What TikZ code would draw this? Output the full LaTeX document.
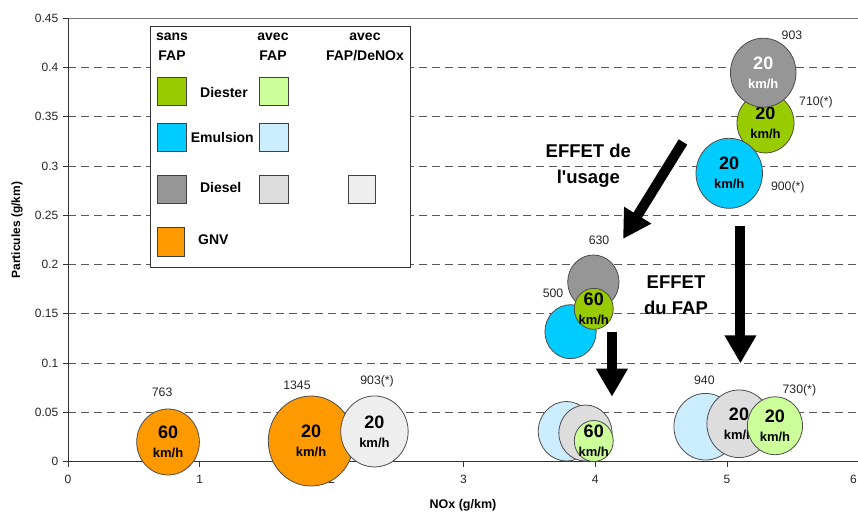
\documentclass[tikz,border=0pt]{standalone}
\usepackage{fontspec}
\setmainfont{Liberation Sans}
\usepackage{tikz}
\usetikzlibrary{shapes, arrows.meta, positioning}
\definecolor{diester}{HTML}{99CC00}
\definecolor{diesterfap}{HTML}{CCFF99}
\definecolor{emul}{HTML}{00CCFF}
\definecolor{emulfap}{HTML}{CCECFF}
\definecolor{diesel}{HTML}{969696}
\definecolor{dieselfap}{HTML}{DDDDDD}
\definecolor{denox}{HTML}{EEEEEE}
\definecolor{gnv}{HTML}{FF9900}
\tikzstyle{bubble} = [ellipse, draw=black!70, line width=0.8pt, inner sep=0pt]
\tikzstyle{spd} = [align=center, inner sep=0pt, font=\bfseries\fontsize{13}{19}\selectfont]
\tikzstyle{val} = [inner sep=0pt, font=\fontsize{12.3}{14}\selectfont, text=black!85]
\tikzstyle{ticklab} = [inner sep=0pt, font=\fontsize{12}{14}\selectfont, text=black!85]
\tikzstyle{gridline} = [draw=black!65, line width=0.9pt, dash pattern=on 8pt off 5pt]
\tikzstyle{axisline} = [draw=black!80, line width=0.9pt]
\tikzstyle{legbox} = [rectangle, draw=black!80, line width=0.9pt, fill=white, inner sep=0pt]
\tikzstyle{swatch} = [rectangle, draw=black!75, line width=0.8pt, minimum width=29pt, minimum height=28pt, inner sep=0pt]
\tikzstyle{legtext} = [inner sep=0pt, align=center, font=\bfseries\fontsize{14}{20}\selectfont]
\tikzstyle{effet} = [inner sep=0pt, align=center, font=\bfseries\fontsize{18.5}{26}\selectfont]
\tikzstyle{bigarrow} = [line width=10pt, -{Triangle[width=30pt,length=28pt]}]
\tikzset{rad/.style={minimum width={1.9*#1pt}, minimum height={2*#1pt}}}
\newcommand{\kmh}[1]{{\fontsize{18}{19}\selectfont #1}\\km/h}

\begin{document}
\begin{tikzpicture}[x=131.8pt, y=985pt]
			\useasboundingbox (-68pt,-50.5pt) rectangle (790pt,461.5pt);
			\clip (-68pt,-50.5pt) rectangle (790pt,461.5pt);

			\foreach \y in {0.05,0.1,0.15,0.2,0.25,0.3,0.35,0.4}
				\path [gridline] (0,\y) -- (6,\y);
			\path [axisline, draw=black!55] (0,0.45) -- (6,0.45);
			\path [axisline] (0,0.45) -- (0,0) -- (6,0);
			\foreach \y [count=\i] in {0,0.05,0.1,0.15,0.2,0.25,0.3,0.35,0.4,0.45} {
				\path [axisline] ([xshift=-5pt]0,\y) -- (0,\y);
				\node [ticklab, anchor=east] (ylab\i) at ([xshift=-9.5pt]0,\y) {\y};
			}
			\foreach \x in {0,...,5} {
				\path [axisline] (\x,0) -- ([yshift=-5pt]\x,0);
				\node [ticklab] (xlab\x) at ([yshift=-18pt]\x,0) {\x};
			}
			\node [ticklab, anchor=east] (xlab6) at ([yshift=-18pt, xshift=-1pt]790pt,0) {6};
			\node [font=\bfseries\fontsize{12}{14}\selectfont, rotate=90] (ytitle) at (-0.387,0.235) {Particules (g/km)};
			\node [font=\bfseries\fontsize{12.5}{14}\selectfont] (xtitle) at (2.997,-0.0442) {NOx (g/km)};

			\node [legbox, anchor=north west, minimum width=260pt, minimum height=240.7pt] (leg) at (0.622,0.4421) {};
			\begin{scope}[shift={(leg.north west)}, x=1pt, y=1pt]
				\node [legtext] (hsans) at (22,-21) {sans\\FAP};
				\node [legtext] (havec) at (123,-21) {avec\\FAP};
				\node [legtext] (hdenox) at (215,-21) {avec\\FAP/DeNOx};
				\node [swatch, fill=diester] (sdiester) at (22,-65.5) {};
				\node [swatch, fill=diesterfap] (sdiesterfap) at (124,-65.5) {};
				\node [swatch, fill=emul] (semul) at (22,-111) {};
				\node [swatch, fill=emulfap] (semulfap) at (124,-111) {};
				\node [swatch, fill=diesel] (sdiesel) at (22,-163) {};
				\node [swatch, fill=dieselfap] (sdieselfap) at (124,-163) {};
				\node [swatch, fill=denox, minimum width=27pt] (sdenox) at (212.3,-163) {};
				\node [swatch, fill=gnv, minimum width=27pt, minimum height=29pt] (sgnv) at (20.7,-216) {};
				\node [legtext] (ldiester) at (74,-66.3) {Diester};
				\node [legtext] (lemul) at (72.3,-111) {Emulsion};
				\node [legtext] (ldiesel) at (70.7,-161) {Diesel};
				\node [legtext] (lgnv) at (63.3,-214) {GNV};
			\end{scope}

			\node [bubble, rad=33, fill=gnv, label={[spd]center:\kmh{60}}] (gnv60) at (0.759,0.0198) {};
			\node [bubble, rad=45, fill=gnv, label={[spd]center:\kmh{20}}] (gnv20) at (1.844,0.0208) {};
			\node [bubble, rad=35.5, fill=denox, label={[spd]center:\kmh{20}}] (denox20) at (2.325,0.0305) {};

			\node [bubble, rad=30, fill=diester, label={[spd]center:\kmh{20}}] (diester20) at (5.292,0.3437) {};
			\node [bubble, rad=35, fill=emul, label={[spd]center:\kmh{20}}] (emul20) at (5.017,0.2926) {};
			\node [bubble, rad=34.5, fill=diesel, label={[spd, text=white]center:\kmh{20}}] (diesel20) at (5.275,0.3947) {};

			\node [bubble, rad=27, fill=diesel] (diesel60) at (3.986,0.1822) {};
			\node [bubble, rad=27, fill=emul] (emul60) at (3.813,0.1318) {};
			\node [bubble, rad=20.5, fill=diester, label={[spd]center:\kmh{60}}] (diester60) at (3.989,0.155) {};

			\node [bubble, rad=29.7, fill=emulfap] (emulfap60) at (3.782,0.0307) {};
			\node [bubble, rad=28, fill=dieselfap] (dieselfap60) at (3.926,0.0289) {};
			\node [bubble, rad=20.5, fill=diesterfap, label={[spd]center:\kmh{60}}] (diesterfap60) at (3.989,0.0208) {};

			\node [bubble, rad=33.3, fill=emulfap] (emulfap20) at (4.837,0.0353) {};
			\node [bubble, rad=33.8, fill=dieselfap, label={[spd]center:\kmh{20}}] (dieselfap20) at (5.091,0.0383) {};
			\node [bubble, rad=29, fill=diesterfap, label={[spd]center:\kmh{20}}] (diesterfap20) at (5.364,0.0363) {};

			\node [val] (v763) at (0.714,0.0706) {763};
			\node [val] (v1345) at (1.737,0.0777) {1345};
			\node [val] (v903b) at (2.345,0.0817) {903(*)};
			\node [val] (v903) at (5.493,0.433) {903};
			\node [val] (v710) at (5.675,0.365) {710(*)};
			\node [val] (v900) at (5.461,0.2784) {900(*)};
			\node [val] (v630) at (4.029,0.2242) {630};
			\node [val] (v500) at (3.68,0.171) {500};
			\node [val] (v940) at (4.828,0.0827) {940};
			\node [val] (v730) at (5.549,0.0726) {730(*)};

			\node [effet] (usage) at (3.948,0.2999) {EFFET de\\l\textquotesingle usage};
			\node [effet] (fap) at (4.613,0.1685) {EFFET\\du FAP};
			\coordinate (usage-start) at (4.666,0.3244);
			\coordinate (usage-end) at (4.211,0.2259);
			\coordinate (fap-start) at (5.102,0.2391);
			\coordinate (fap-end) at (5.102,0.0997);
			\coordinate (fap2-start) at (4.127,0.1318);
			\coordinate (fap2-end) at (4.127,0.0658);
			\path [bigarrow, draw] (usage-start) -- (usage-end);
			\path [bigarrow, draw] (fap-start) -- (fap-end);
			\path [bigarrow, draw] (fap2-start) -- (fap2-end);
\end{tikzpicture}
\end{document}
